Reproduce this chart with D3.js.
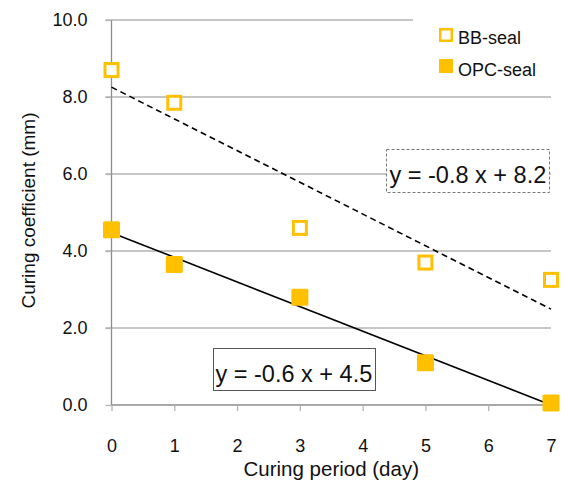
<!DOCTYPE html>
<html><head><meta charset="utf-8">
<script src="https://cdn.jsdelivr.net/npm/d3@7"></script>
<style>body{margin:0;background:#fff}svg{font-family:"Liberation Sans",Arial,sans-serif}</style>
</head><body><svg id="c" width="565" height="483"></svg>
<script>
const days = [0, 1, 3, 5, 7];
const bbSeal = [8.7, 7.85, 4.6, 3.7, 3.25];
const opcSeal = [4.55, 3.65, 2.8, 1.1, 0.05];
const xTicks = [0, 1, 2, 3, 4, 5, 6, 7];
const yTicks = [0, 2, 4, 6, 8, 10];
const seriesNames = ["BB-seal", "OPC-seal"];
const equations = ["y = -0.8 x + 8.2", "y = -0.6 x + 4.5"];

const svg = d3.select("#c");
const x = d3.scaleLinear().domain([0, 7]).range([111.5, 551]);
const y = d3.scaleLinear().domain([0, 10]).range([405, 20]);
const gold = "#FFC000", grid = "#b3b3b3", axisC = "#8c8c8c";

// gridlines
svg.append("g").selectAll("line").data(yTicks.filter(d => d > 0)).join("line")
  .attr("x1", x(0) - 6).attr("x2", x(7)).attr("y1", d => y(d)).attr("y2", d => y(d))
  .attr("stroke", grid).attr("stroke-width", 1.3);

// y axis
const ya = svg.append("g").attr("transform", `translate(${x(0)},0)`)
  .call(d3.axisLeft(y).tickValues(yTicks).tickFormat(d3.format(".1f")).tickSize(6).tickPadding(18));
ya.select(".domain").attr("stroke", axisC).attr("stroke-width", 1.3).attr("d", `M0,${y(0)}V${y(10)}`);
ya.selectAll(".tick line").attr("stroke", grid).attr("stroke-width", 1.3);
ya.selectAll("text").attr("font-size", 18).attr("fill", "#111").attr("font-family", "Liberation Sans, Arial");

// x axis
const xa = svg.append("g").attr("transform", `translate(0,${y(0)})`)
  .call(d3.axisBottom(x).tickValues(xTicks).tickFormat(d3.format("d")).tickSize(6).tickPadding(28));
xa.select(".domain").attr("stroke", axisC).attr("stroke-width", 1.3).attr("d", `M${x(0)},0H${x(7)}`);
xa.selectAll(".tick line").attr("stroke", grid).attr("stroke-width", 1.3);
xa.selectAll("text").attr("font-size", 18).attr("fill", "#111").attr("font-family", "Liberation Sans, Arial");

// legend background covers top gridline
svg.append("rect").attr("x", 413).attr("y", 5).attr("width", 145).attr("height", 85).attr("fill", "#fff");

// regression trend lines
function reg(xs, ys) {
  const mx = d3.mean(xs), my = d3.mean(ys);
  const sxy = d3.sum(xs, (v, i) => (v - mx) * (ys[i] - my));
  const sxx = d3.sum(xs, v => (v - mx) ** 2);
  const m = sxy / sxx; return [m, my - m * mx];
}
const [m1, b1] = reg(days, bbSeal), [m2, b2] = reg(days, opcSeal);
svg.append("line").attr("x1", x(0)).attr("y1", y(b1)).attr("x2", x(7)).attr("y2", y(b1 + m1 * 7))
  .attr("stroke", "#000").attr("stroke-width", 1.6).attr("stroke-dasharray", "6,4");
svg.append("line").attr("x1", x(0)).attr("y1", y(b2)).attr("x2", x(7)).attr("y2", y(b2 + m2 * 7))
  .attr("stroke", "#000").attr("stroke-width", 1.6);

// markers
svg.append("g").selectAll("rect").data(days).join("rect")
  .attr("x", (d) => x(d) - 6.5).attr("y", (d, i) => y(bbSeal[i]) - 6.5).attr("width", 13).attr("height", 13)
  .attr("fill", "#fff").attr("stroke", gold).attr("stroke-width", 3);
svg.append("g").selectAll("rect").data(days).join("rect")
  .attr("x", (d) => x(d) - 8.5).attr("y", (d, i) => y(opcSeal[i]) - 8.5).attr("width", 17).attr("height", 17)
  .attr("rx", 1.5).attr("fill", gold);

// legend
svg.append("rect").attr("x", 440.25).attr("y", 29.25).attr("width", 11.5).attr("height", 11.5)
  .attr("fill", "#fff").attr("stroke", gold).attr("stroke-width", 2.5);
svg.append("rect").attr("x", 439).attr("y", 59).attr("width", 14).attr("height", 14).attr("fill", gold);
svg.append("text").attr("x", 458).attr("y", 44).attr("font-size", 18).attr("fill", "#111").text(seriesNames[0]);
svg.append("text").attr("x", 458).attr("y", 76).attr("font-size", 18).attr("fill", "#111").text(seriesNames[1]);

// equation boxes
svg.append("rect").attr("x", 386.5).attr("y", 149.5).attr("width", 163).attr("height", 43)
  .attr("fill", "#fff").attr("stroke", "#777").attr("stroke-width", 1).attr("stroke-dasharray", "3,2");
svg.append("text").attr("x", 389.5).attr("y", 182.5).attr("font-size", 23.5).attr("fill", "#111").text(equations[0]);
svg.append("rect").attr("x", 213.5).attr("y", 348.5).attr("width", 162).attr("height", 42)
  .attr("fill", "#fff").attr("stroke", "#555").attr("stroke-width", 1);
svg.append("text").attr("x", 215.5).attr("y", 381.5).attr("font-size", 23.5).attr("fill", "#111").text(equations[1]);

// axis titles
svg.append("text").attr("x", x(3.5)).attr("y", 476).attr("text-anchor", "middle").attr("font-size", 20.5).attr("fill", "#111").text("Curing period (day)");
svg.append("text").attr("transform", "translate(35,210.5) rotate(-90)").attr("text-anchor", "middle").attr("font-size", 19).attr("fill", "#111").text("Curing coefficient (mm)");
</script></body></html>
